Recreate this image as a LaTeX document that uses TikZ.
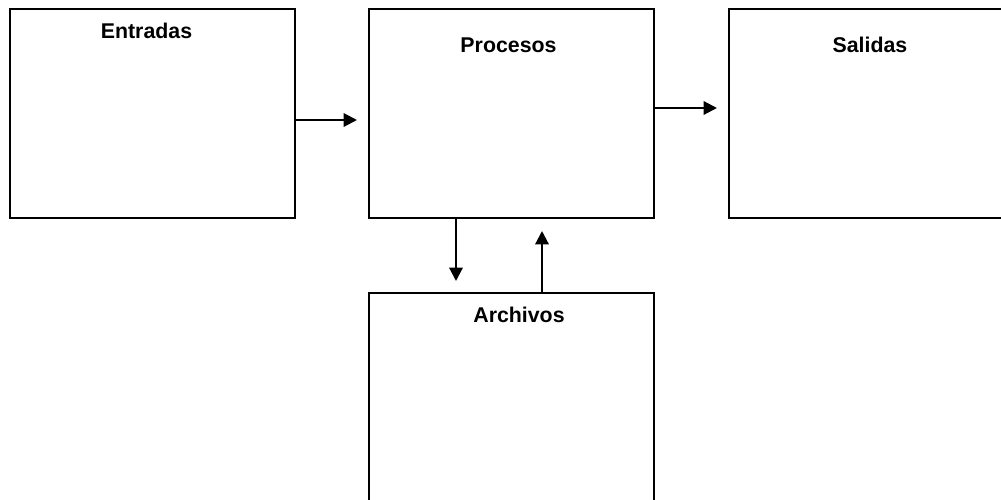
\documentclass[tikz,border=0pt]{standalone}
\usepackage{fontspec}
\setmainfont{Liberation Sans}
\usetikzlibrary{arrows.meta}
\tikzset{
  box/.style={draw=black, line width=1.5pt, minimum width=213.75pt, minimum height=156.75pt, inner sep=0pt, fill=white},
  lbl/.style={font=\bfseries\fontsize{16}{19}\selectfont, anchor=base, inner sep=0pt},
  conn/.style={line width=1.6pt, -{Triangle[length=10pt,width=10pt]}}
}
\begin{document}
\begin{tikzpicture}[x=0.75pt,y=-0.75pt]
\useasboundingbox (0,0) rectangle (1001,500);
\clip (0,0) rectangle (1001,500);
\fill[white] (0,0) rectangle (1001,500);
\node[box] (entradas) at (152.5,113.5) {};
\node[box] (procesos) at (511.5,113.5) {};
\node[box] (salidas) at (871.5,113.5) {};
\node[box] (archivos) at (511.5,397.5) {};
\node[lbl] (tentradas) at (146.5,38) {Entradas};
\node[lbl] (tprocesos) at (508.5,52) {Procesos};
\node[lbl] (tsalidas) at (870,52) {Salidas};
\node[lbl] (tarchivos) at (519,322) {Archivos};
\coordinate (a1s) at (295,120);
\coordinate (a1e) at (357,120);
\coordinate (a2s) at (654,108);
\coordinate (a2e) at (717,108);
\coordinate (a3s) at (456,218);
\coordinate (a3e) at (456,281);
\coordinate (a4s) at (542,293);
\coordinate (a4e) at (542,231);
\draw[conn] (a1s) -- (a1e);
\draw[conn] (a2s) -- (a2e);
\draw[conn] (a3s) -- (a3e);
\draw[conn] (a4s) -- (a4e);
\end{tikzpicture}
\end{document}
